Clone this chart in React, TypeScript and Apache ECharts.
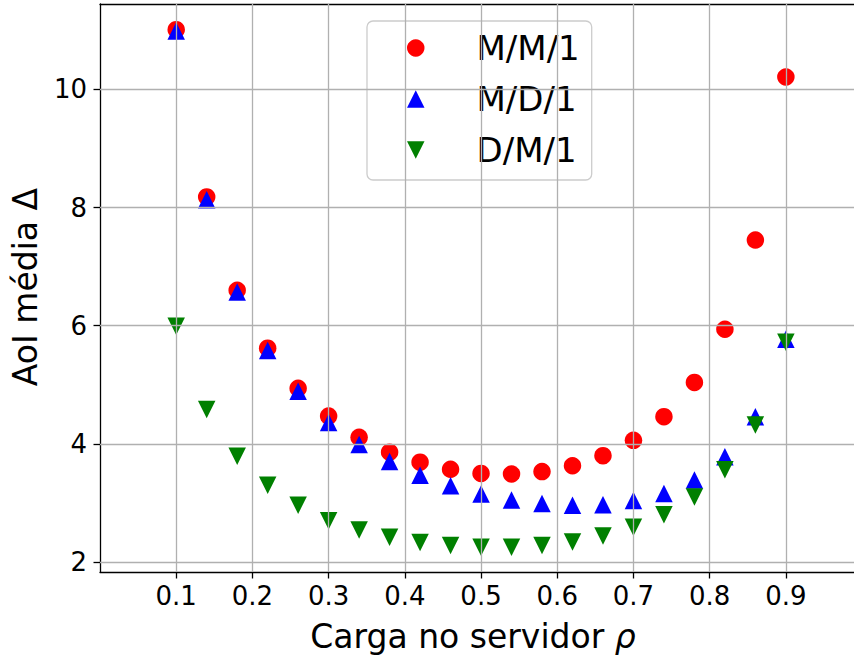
import React, { useEffect, useRef } from "react";
import * as echarts from "echarts";

// Server load ρ
const rho = [0.1, 0.14, 0.18, 0.22, 0.26, 0.3, 0.34, 0.38, 0.42, 0.46, 0.5, 0.54, 0.58, 0.62, 0.66, 0.7, 0.74, 0.78, 0.82, 0.86, 0.9];

// Mean AoI Δ per queue model
const aoiMM1 = [11.01, 8.18, 6.6, 5.62, 4.94, 4.47, 4.11, 3.86, 3.69, 3.57, 3.5, 3.49, 3.53, 3.63, 3.8, 4.06, 4.46, 5.04, 5.94, 7.45, 10.21];
const aoiMD1 = [10.99, 8.13, 6.57, 5.58, 4.89, 4.36, 3.99, 3.7, 3.47, 3.29, 3.15, 3.05, 2.99, 2.96, 2.97, 3.04, 3.16, 3.39, 3.78, 4.46, 5.77];
const aoiDM1 = [5.99, 4.58, 3.79, 3.3, 2.96, 2.7, 2.54, 2.42, 2.33, 2.28, 2.25, 2.25, 2.28, 2.34, 2.44, 2.59, 2.8, 3.1, 3.56, 4.32, 5.72];

const seriesNames = ["M/M/1", "M/D/1", "D/M/1"];

const xTicks = [0.1, 0.2, 0.3, 0.4, 0.5, 0.6, 0.7, 0.8, 0.9];
const yTicks = [2, 4, 6, 8, 10];

const FONT = "DejaVu Sans";
const GRID_COLOR = "#b0b0b0";
const DOWN_TRIANGLE = "path://M0,0L2,0L1,2Z";

// Visible x-range: the right edge of the axes runs just past the canvas
const X_MIN = 0;
const X_MAX = 0.9894;
const Y_MIN = 1.831;
const Y_MAX = 11.445;

export default function App() {
  const ref = useRef<HTMLDivElement>(null);

  useEffect(() => {
    if (!ref.current) return;
    const chart = echarts.init(ref.current, undefined, { renderer: "svg" });

    const pairs = (ys: number[]) => rho.map((x, i) => [x, ys[i]]);

    const gridLines = [
      ...xTicks.map((v) => ({ xAxis: v })),
      ...yTicks.map((v) => ({ yAxis: v })),
    ];

    const marker = (name: string, data: number[], symbol: string, color: string) => ({
      name,
      type: "scatter",
      data: pairs(data),
      symbol,
      symbolSize: 17.5,
      itemStyle: { color, opacity: 1 },
      z: 3,
    });

    const spine = { show: true, lineStyle: { color: "#000", width: 1.3 } };

    chart.setOption({
      animation: false,
      backgroundColor: "#ffffff",
      textStyle: { fontFamily: FONT },
      grid: {
        left: 100,
        top: 4,
        right: 0,
        bottom: 83,
        show: false,
      },
      xAxis: [
        {
          type: "value",
          min: X_MIN,
          max: X_MAX,
          axisLine: spine,
          axisTick: {
            show: true,
            customValues: xTicks,
            length: 6.5,
            lineStyle: { color: "#000", width: 1.3 },
          },
          axisLabel: {
            customValues: xTicks,
            formatter: (v: number) => v.toFixed(1),
            fontSize: 26,
            fontFamily: FONT,
            color: "#000",
            margin: 11,
          },
          splitLine: { show: false },
        },
        {
          // top spine
          type: "value",
          position: "top",
          min: X_MIN,
          max: X_MAX,
          axisLine: spine,
          axisTick: { show: false },
          axisLabel: { show: false },
          splitLine: { show: false },
        },
      ],
      yAxis: {
        type: "value",
        min: Y_MIN,
        max: Y_MAX,
        axisLine: spine,
        axisTick: {
          show: true,
          customValues: yTicks,
          length: 6.5,
          lineStyle: { color: "#000", width: 1.3 },
        },
        axisLabel: {
          customValues: yTicks,
          formatter: (v: number) => String(v),
          fontSize: 26,
          fontFamily: FONT,
          color: "#000",
          margin: 13,
        },
        splitLine: { show: false },
      },
      legend: {
        data: seriesNames,
        orient: "vertical",
        left: 367,
        top: 21,
        padding: [10, 12, 13, 40],
        itemGap: 17,
        itemWidth: 17.5,
        itemHeight: 17.5,
        backgroundColor: "rgba(255,255,255,0.8)",
        borderColor: "#cccccc",
        borderWidth: 1.3,
        borderRadius: 6,
        textStyle: {
          fontSize: 34,
          lineHeight: 34,
          fontFamily: FONT,
          color: "#000",
          padding: [0, 0, 0, 47],
        },
      },
      graphic: [
        {
          type: "text",
          x: 473,
          y: 636,
          style: {
            text: "Carga no servidor {i|ρ}",
            fontSize: 33,
            fontFamily: FONT,
            fill: "#000",
            textAlign: "center",
            textVerticalAlign: "middle",
            rich: {
              i: { fontSize: 33, fontFamily: FONT, fontStyle: "italic", fill: "#000" },
            },
          },
        },
        {
          type: "text",
          x: 25,
          y: 287,
          rotation: Math.PI / 2,
          style: {
            text: "AoI média Δ",
            fontSize: 33,
            fontFamily: FONT,
            fill: "#000",
            textAlign: "center",
            textVerticalAlign: "middle",
          },
        },
      ],
      series: [
        {
          name: "grid",
          type: "scatter",
          data: [],
          silent: true,
          z: 1,
          markLine: {
            silent: true,
            symbol: ["none", "none"],
            label: { show: false },
            lineStyle: { color: GRID_COLOR, width: 1.3, type: "solid" },
            emphasis: { disabled: true },
            data: gridLines,
          },
        },
        marker(seriesNames[0], aoiMM1, "circle", "#ff0000"),
        marker(seriesNames[1], aoiMD1, "triangle", "#0000ff"),
        marker(seriesNames[2], aoiDM1, DOWN_TRIANGLE, "#008000"),
      ],
    });

    return () => chart.dispose();
  }, []);

  return (
    <div
      ref={ref}
      style={{ position: "fixed", left: 0, top: 0, width: 854, height: 655 }}
    />
  );
}
